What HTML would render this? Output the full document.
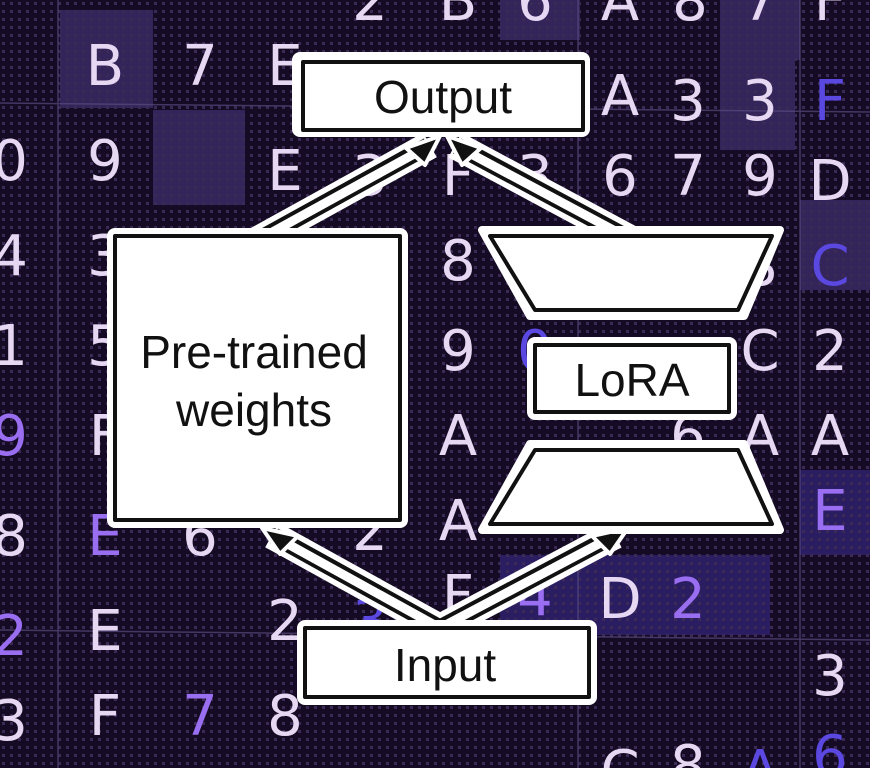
<!DOCTYPE html>
<html><head><meta charset="utf-8"><style>
html,body{margin:0;padding:0;background:#140a22;}
svg{display:block}
.c{font-family:"DejaVu Sans","Liberation Sans",sans-serif;font-size:56px;fill:#e6d8f2;text-anchor:middle}
.p{fill:#9a6ef0}
.b{fill:#5a48e0}
.l{font-family:"Liberation Sans",sans-serif;font-size:46px;fill:#111;text-anchor:middle}
</style></head><body>
<svg width="870" height="768" viewBox="0 0 870 768" xmlns="http://www.w3.org/2000/svg">
<defs>
<pattern id="dots" width="8" height="8" patternUnits="userSpaceOnUse">
<rect x="2" y="2" width="3" height="3" fill="#3a2a55"/>
</pattern>
</defs>
<rect width="870" height="768" fill="#150b24"/>
<g fill="#33255a">
<rect x="60" y="10" width="93" height="98"/>
<rect x="153" y="110" width="92" height="95"/>
<rect x="500" y="0" width="80" height="40"/>
<rect x="720" y="0" width="80" height="60"/>
<rect x="720" y="60" width="75" height="90"/>
<rect x="800" y="200" width="70" height="90"/>
</g>
<g fill="#2a1d62">
<rect x="600" y="555" width="170" height="80"/>
<rect x="800" y="470" width="70" height="85"/>
<rect x="500" y="555" width="100" height="80"/>
</g>
<rect width="870" height="768" fill="url(#dots)"/>
<g stroke="#5a4a80" stroke-width="1.5" opacity="0.7">
<line x1="58" y1="0" x2="58" y2="768"/>
<line x1="0" y1="103" x2="870" y2="112"/>
<line x1="578" y1="0" x2="578" y2="768"/>
<line x1="0" y1="630" x2="870" y2="640"/>
<line x1="800" y1="0" x2="800" y2="768"/>
</g>
<g class="c">
<text x="370" y="20">2</text><text x="458" y="20">B</text><text x="535" y="20">6</text><text x="620" y="20">A</text><text x="690" y="20">8</text><text x="760" y="20">7</text><text x="830" y="20">F</text>
<text x="105" y="85">B</text><text x="200" y="85">7</text><text x="285" y="85">E</text><text x="620" y="115">A</text><text x="688" y="120">3</text><text x="760" y="120">3</text><text x="830" y="120" class="c b">F</text>
<text x="10" y="180">0</text><text x="105" y="180">9</text><text x="285" y="190">E</text><text x="370" y="195">3</text><text x="458" y="195">F</text><text x="535" y="195">3</text><text x="620" y="195">6</text><text x="688" y="195">7</text><text x="760" y="195">9</text><text x="830" y="200">D</text>
<text x="10" y="275">4</text><text x="105" y="275">3</text><text x="458" y="280">8</text><text x="760" y="285">8</text><text x="830" y="285" class="c b">C</text>
<text x="10" y="365">1</text><text x="105" y="365">5</text><text x="458" y="370">9</text><text x="535" y="370" class="c b">0</text><text x="760" y="370">C</text><text x="830" y="370">2</text>
<text x="10" y="455" class="c p">9</text><text x="105" y="455">F</text><text x="458" y="455">A</text><text x="688" y="455">6</text><text x="760" y="455">A</text><text x="830" y="455">A</text>
<text x="10" y="555">8</text><text x="105" y="555" class="c p">E</text><text x="200" y="555">6</text><text x="370" y="550">2</text><text x="458" y="540">A</text><text x="830" y="530" class="c p">E</text>
<text x="10" y="655" class="c p">2</text><text x="105" y="650">E</text><text x="285" y="640">2</text><text x="370" y="640" class="c b">3</text><text x="458" y="615">F</text><text x="535" y="615" class="c p">4</text><text x="620" y="618">D</text><text x="688" y="618" class="c p">2</text>
<text x="10" y="740">3</text><text x="105" y="735">F</text><text x="200" y="735" class="c p">7</text><text x="285" y="735">8</text><text x="830" y="695">3</text>
<text x="620" y="790">C</text><text x="688" y="785">8</text><text x="760" y="790" class="c b">A</text><text x="830" y="775" class="c b">6</text>
</g>
<g stroke-linecap="butt" fill="none">
<g stroke="#fff" stroke-width="28">
<line x1="258" y1="240" x2="430" y2="145"/><line x1="632" y1="240" x2="455" y2="145"/>
<line x1="440" y1="628" x2="272" y2="535"/><line x1="440" y1="628" x2="615" y2="535"/>
</g>
<g stroke="#111" stroke-width="17">
<line x1="258" y1="240" x2="428" y2="146"/><line x1="632" y1="240" x2="457" y2="146"/>
<line x1="440" y1="628" x2="274" y2="536"/><line x1="440" y1="628" x2="613" y2="536"/>
</g>
<g stroke="#fff" stroke-width="9">
<line x1="258" y1="240" x2="425" y2="148"/><line x1="632" y1="240" x2="460" y2="148"/>
<line x1="440" y1="628" x2="277" y2="538"/><line x1="440" y1="628" x2="610" y2="538"/>
</g>
</g>
<g fill="#111" stroke="#fff" stroke-width="4" stroke-linejoin="round">
<polygon points="440,136 406,148 425,165"/>
<polygon points="447,136 481,148 462,165"/>
<polygon points="262,528 298,536 280,554"/>
<polygon points="628,528 592,536 610,554"/>
</g>
<g stroke-linejoin="round">
<rect x="292" y="52" width="298" height="85" rx="8" fill="#fff"/>
<rect x="303" y="62" width="280" height="68" fill="#fff" stroke="#111" stroke-width="4"/>
<rect x="107" y="228" width="301" height="300" rx="8" fill="#fff"/>
<rect x="115" y="236" width="285" height="284" fill="#fff" stroke="#111" stroke-width="4"/>
<rect x="527" y="337" width="210" height="83" rx="8" fill="#fff"/>
<rect x="535" y="345" width="194" height="67" fill="#fff" stroke="#111" stroke-width="4"/>
<rect x="297" y="620" width="300" height="85" rx="8" fill="#fff"/>
<rect x="305" y="628" width="284" height="69" fill="#fff" stroke="#111" stroke-width="4"/>
<polygon points="482,230 780,230 744,316 530,316" fill="#fff" stroke="#fff" stroke-width="8"/>
<polygon points="490,236 772,236 738,310 535,310" fill="#fff" stroke="#111" stroke-width="4"/>
<polygon points="530,444 744,444 780,530 482,530" fill="#fff" stroke="#fff" stroke-width="8"/>
<polygon points="535,450 738,450 772,524 490,524" fill="#fff" stroke="#111" stroke-width="4"/>
</g>
<text class="l" x="443" y="113">Output</text>
<text class="l" x="254" y="368">Pre-trained</text>
<text class="l" x="254" y="426">weights</text>
<text class="l" x="632" y="396">LoRA</text>
<text class="l" x="445" y="681">Input</text>
</svg>
</body></html>
